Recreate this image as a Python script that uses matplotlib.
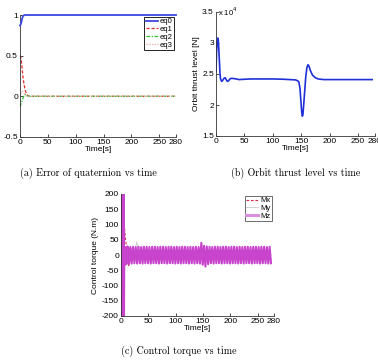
import numpy as np
import matplotlib
matplotlib.use('Agg')
import matplotlib.pyplot as plt

plt.rcParams['font.family'] = ['Liberation Sans', 'DejaVu Sans']
plt.rcParams['axes.unicode_minus'] = False

## (a) blad kwaternionu
t_q = [0, 1, 2, 3, 4, 5, 6, 8, 10, 12, 14, 17, 20, 280]
eq0 = [0.87, 0.88, 0.90, 0.93, 0.96, 0.98, 0.99, 1.0, 1.0, 1.0, 1.0, 1.0, 1.0, 1.0]
eq1 = [0.50, 0.49, 0.46, 0.40, 0.33, 0.26, 0.20, 0.12, 0.06, 0.03, 0.01, 0.0, 0.0, 0.0]
eq2 = [-0.13, -0.11, -0.09, -0.07, -0.05, -0.03, -0.01, 0.02, 0.02, 0.01, 0.005, 0.0, 0.0, 0.0]
eq3 = [0.0, 0.02, 0.04, 0.05, 0.06, 0.06, 0.05, 0.03, 0.015, 0.005, 0.0, 0.0, 0.0, 0.0]

## (b) ciag orbitalny [N]
t_thr = [0, 1, 2, 3, 4, 5, 6, 7, 8, 10, 12, 14, 16, 18, 20, 22, 25, 28, 32, 36, 40, 50, 60,
         80, 100, 120, 140, 144, 146, 148, 150, 151, 152, 153, 154, 156, 158, 160, 162,
         164, 166, 170, 175, 180, 190, 200, 220, 250, 275]
thrust = [25500, 28500, 30200, 30800, 30500, 29000, 27000, 25200, 24200, 23800, 24000,
          24300, 24400, 24100, 23800, 23900, 24250, 24300, 24250, 24200, 24100, 24150,
          24200, 24200, 24200, 24150, 24050, 23900, 23700, 22600, 20000, 18800, 18200,
          18400, 19500, 22000, 24500, 26000, 26500, 26200, 25600, 24800, 24400, 24200,
          24100, 24100, 24100, 24100, 24100]

## (c) moment sterujacy
mz0_t = [0, 0.6, 1.2, 1.8, 2.4, 3.0, 3.6, 4.2, 4.8, 5.4, 6, 7, 8, 9, 10, 11]
mz0_v = [250, -250, 250, -250, 250, -250, 250, -250, 250, -250, 10, -32, 25, -30, 26, -28]
cyc_t = [12, 17, 22, 27, 32, 37, 42, 47, 52, 57, 62, 67, 72, 77, 82, 87, 92, 97, 102, 107,
         112, 117, 122, 127, 132, 137, 142, 147, 152, 157, 162, 167, 172, 177, 182, 187,
         192, 197, 202, 207, 212, 217, 222, 227, 232, 237, 242, 247, 252, 257, 262, 267, 272]
mz_hi = [28, 26, 27, 26, 27, 26, 27, 27, 26, 27,
         27, 26, 27, 27, 26, 27, 27, 26, 27, 26,
         27, 27, 26, 27, 26, 27, 26,
         40, 30, 28,
         27, 26, 27, 27, 26, 27, 27, 26, 27, 27,
         26, 27, 26, 27, 27, 26, 27, 27, 26, 27,
         27, 26, 27]
mz_lo = [-30, -28, -27, -28, -27, -28, -27, -27, -28, -27,
         -27, -28, -27, -27, -28, -27, -27, -28, -27, -28,
         -27, -27, -28, -27, -28, -27, -28,
         -32, -38, -30,
         -27, -28, -27, -27, -28, -27, -27, -28, -27, -27,
         -28, -27, -28, -27, -27, -28, -27, -27, -28, -27,
         -27, -28, -27]
mx_t = [0, 1, 2, 3, 4, 5, 6, 7, 8, 9, 10, 11, 12, 14, 16, 18, 20, 25, 30, 40, 50, 60, 80,
        100, 120, 140, 148, 150, 152, 154, 160, 180, 200, 230, 260, 275]
mx_v = [200, 150, -150, 180, -120, 120, 95, 80, 55, 40, 30, 26, 25, -35, 22, -20, 20, 18,
        -15, 15, -15, 15, -15, 15, -15, 15, 30, -30, 25, -20, 15, -15, 15, -15, 15, -15]
my_t = [0, 2, 4, 6, 8, 10, 14, 18, 22, 26, 29, 32, 40, 60, 100, 150, 200, 275]
my_v = [0, 60, -40, 30, -20, 15, -10, 10, -10, 20, 43, 5, -5, 5, -5, 10, 5, 0]

## skladamy przebieg Mz z cykli
mz_t = list(mz0_t)
mz_v = list(mz0_v)
for t, hi, lo in zip(cyc_t, mz_hi, mz_lo):
    mz_t += [t, t + 2.5]
    mz_v += [hi, lo]

W, H = 378, 362
fig = plt.figure(figsize=(W / 100, H / 100), dpi=100)

def style(ax):
    ax.spines['top'].set_visible(False)
    ax.spines['right'].set_visible(False)
    for s in ('left', 'bottom'):
        ax.spines[s].set_linewidth(0.6)
        ax.spines[s].set_color('#333333')
    ax.tick_params(direction='in', length=2, width=0.5, labelsize=6, pad=1.5)
    ax.set_xlim(0, 280)
    ax.set_xticks([0, 50, 100, 150, 200, 250, 280])

ax1 = fig.add_axes([20 / W, 1 - 137 / H, 156 / W, 122 / H])
ax1.plot(t_q, eq0, color='#3a48e0', lw=1.3, label='eq0', clip_on=False, zorder=3)
ax1.plot(t_q, eq1, color='#e02828', lw=0.9, ls=(0, (2.5, 1.5)), label='eq1')
ax1.plot(t_q, eq2, color='#30c030', lw=0.9, ls=(0, (3, 1.2, 1, 1.2)), label='eq2')
ax1.plot(t_q, eq3, color='#f2a8a8', lw=0.9, ls=(0, (1, 1.2)), label='eq3')
style(ax1)
ax1.set_ylim(-0.5, 1)
ax1.set_yticks([-0.5, 0, 0.5, 1])
ax1.set_yticklabels(['-0.5', '0', '0.5', '1'])
ax1.set_ylabel('Error of quaternion', fontsize=6)
ax1.yaxis.set_label_coords(-0.13, 0.5)
ax1.set_xlabel('Time[s]', fontsize=6)
ax1.xaxis.set_label_coords(0.5, -0.07)
leg1 = ax1.legend(loc='upper right', fontsize=5.5, frameon=True, fancybox=False,
                  edgecolor='black', framealpha=1, borderpad=0.2, labelspacing=0.05,
                  handlelength=1.6, handletextpad=0.3, borderaxespad=0.2)
leg1.get_frame().set_linewidth(0.6)
ax1.text(0.44, -0.295, '(a) Error of quaternion vs time', transform=ax1.transAxes,
         ha='center', va='center', fontsize=7.2, family='cmr10')

ax2 = fig.add_axes([216 / W, 1 - 136 / H, 159 / W, 124 / H])
ax2.plot(t_thr, np.array(thrust) / 1e4, color='#2030d8', lw=1.2)
style(ax2)
ax2.set_ylim(1.5, 3.5)
ax2.set_yticks([1.5, 2, 2.5, 3, 3.5])
ax2.set_yticklabels(['1.5', '2', '2.5', '3', '3.5'])
ax2.text(0.01, 1.0, r'x 10$^4$', transform=ax2.transAxes, fontsize=5.5,
         ha='left', va='center')
ax2.set_ylabel('Orbit thrust level [N]', fontsize=6)
ax2.yaxis.set_label_coords(-0.10, 0.5)
ax2.set_xlabel('Time[s]', fontsize=6)
ax2.xaxis.set_label_coords(0.5, -0.07)
ax2.text(0.5, -0.298, '(b) Orbit thrust level vs time', transform=ax2.transAxes,
         ha='center', va='center', fontsize=7.2, family='cmr10')

ax3 = fig.add_axes([121 / W, 1 - 316 / H, 153 / W, 122 / H])
ax3.plot(mx_t, mx_v, color='#e03050', lw=0.8, ls=(0, (2.5, 1.5)), label='Mx')
ax3.plot(my_t, my_v, color='#c8c8c8', lw=0.6, label='My')
ax3.plot(mz_t, mz_v, color='#c844cc', lw=1.5, label='Mz')
style(ax3)
ax3.set_ylim(-200, 200)
ax3.set_yticks(np.arange(-200, 201, 50))
ax3.set_ylabel('Control torque (N.m)', fontsize=6)
ax3.yaxis.set_label_coords(-0.145, 0.5)
ax3.set_xlabel('Time[s]', fontsize=6)
ax3.xaxis.set_label_coords(0.5, -0.07)
leg3 = ax3.legend(loc='upper right', fontsize=5.5, frameon=True, fancybox=False,
                  edgecolor='#555555', framealpha=1, borderpad=0.2, labelspacing=0.05,
                  handlelength=1.6, handletextpad=0.3, borderaxespad=0.2)
leg3.get_frame().set_linewidth(0.6)
leg3.get_lines()[2].set_linewidth(2.2)
leg3.get_lines()[2].set_color('#d890dc')
ax3.text(0.38, -0.29, '(c) Control torque vs time', transform=ax3.transAxes,
         ha='center', va='center', fontsize=7.2, family='cmr10')

fig.savefig('out.png', dpi=100)
